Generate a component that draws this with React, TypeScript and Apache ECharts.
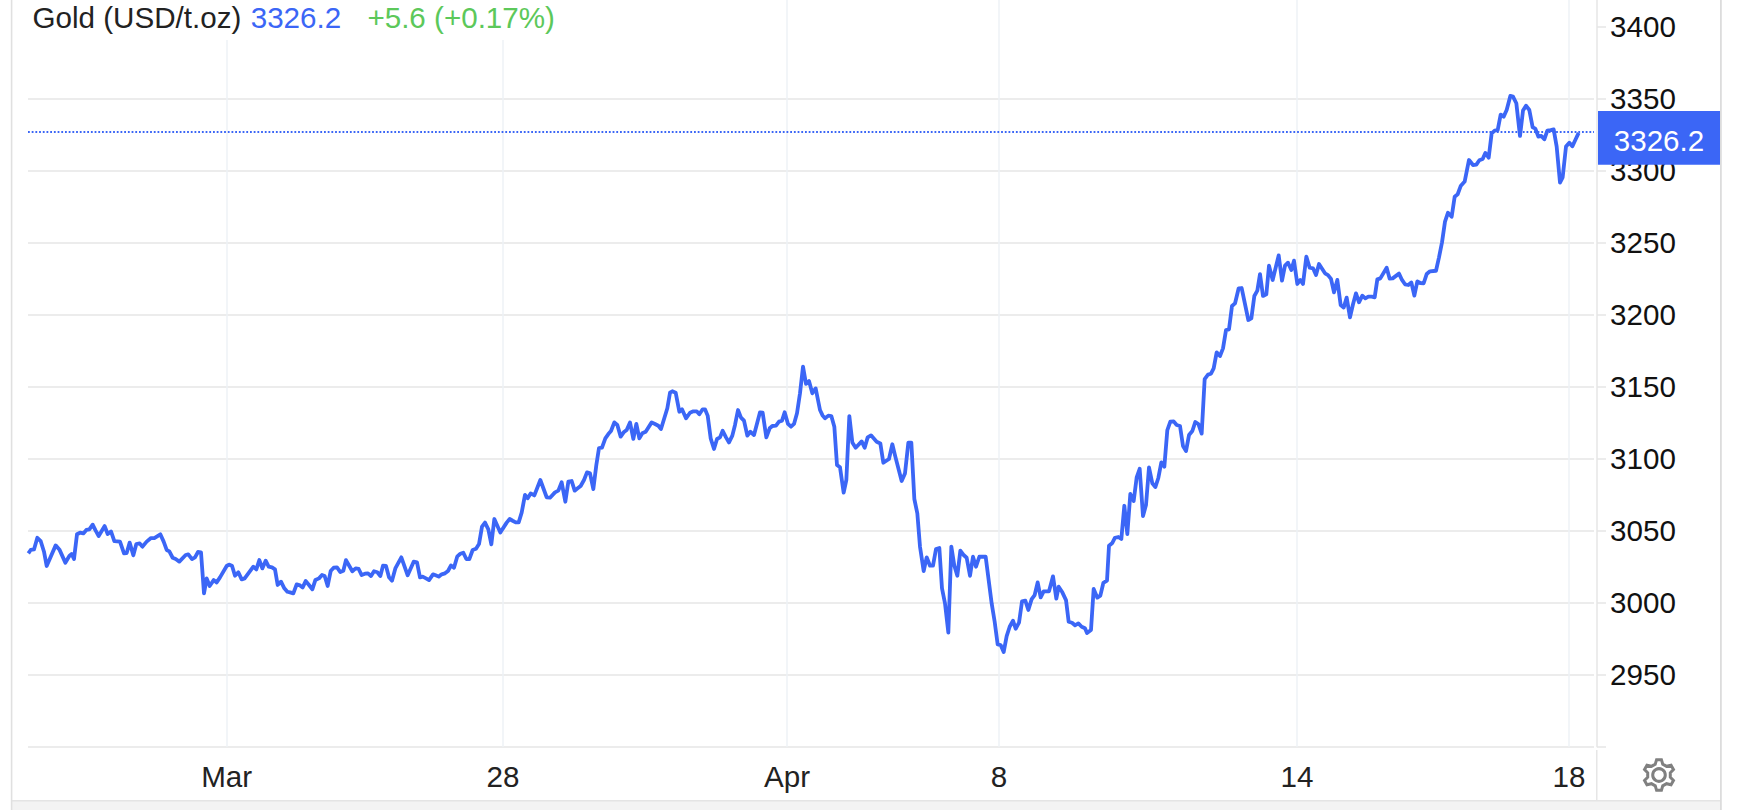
import React, { useEffect, useRef } from "react";
import * as echarts from "echarts";

// Each session holds [time step within the session, price in USD/t.oz]; sessions are consecutive.
const sessionLength = 795;
const session1 = [[10,3034.3],[17,3036.6],[27,3037],[37,3045.1],[47,3042.8],[57,3035.4],[65,3025.5],[92,3039.8],[103,3037],[121,3027.8],[133,3032.4],[140,3033.8],[147,3030.3],[156,3047.5],[165,3048.6],[175,3048.1],[184,3050.5],[193,3050.9],[203,3054.2],[212,3050],[221,3046.3],[239,3053.2],[248,3047.7],[258,3049.5],[268,3042.8],[285,3042.4],[297,3034.3],[305,3034.5],[314,3041.7],[325,3032.9],[334,3040.7],[344,3041.2],[352,3038.9],[365,3042.4],[378,3044.9],[388,3044.9],[406,3047.5],[416,3042.4],[425,3036.6],[433,3035.6],[443,3031.2],[452,3030.3],[463,3028.5],[482,3033.1],[490,3033.6],[501,3030.3],[510,3031.5],[519,3035.2],[528,3035],[537,3006.5],[545,3016.9],[554,3011.6],[566,3015.7],[575,3014.1],[585,3017.6],[605,3025.5],[612,3026.4],[621,3025.7],[630,3018.7],[640,3021.1],[650,3016.2],[659,3016.9],[685,3025],[694,3023.1],[703,3029.6],[712,3023.8],[722,3029.2],[731,3025],[741,3024.5],[750,3023.1],[758,3012.3],[768,3014.6],[778,3010],[787,3007.6],[795,3007.2]];
const session2 = [[10,3006.5],[20,3012.7],[30,3012],[38,3010.6],[47,3015],[57,3012.3],[67,3009.3],[76,3015.7],[87,3016.9],[96,3019.2],[104,3018.5],[113,3011.6],[122,3022],[131,3024.3],[141,3024.5],[151,3021.3],[160,3022.2],[168,3029.6],[178,3025.5],[187,3021.8],[197,3023.8],[206,3023.4],[215,3019.2],[225,3020.1],[234,3020.4],[243,3018.5],[252,3021.8],[262,3021.1],[271,3018.5],[279,3025.7],[288,3025.5],[297,3017.6],[306,3015.3],[316,3023.8],[334,3031.5],[343,3025.5],[353,3019],[371,3028.5],[381,3028],[390,3017.6],[398,3018.1],[408,3016.9],[417,3015.7],[429,3019.7],[437,3019],[446,3018.1],[455,3019.7],[465,3020.4],[474,3022],[483,3025.9],[492,3024.3],[502,3032.2],[511,3034],[520,3034.7],[529,3030.3],[538,3030.3],[548,3036.6],[558,3037.5],[567,3040.7],[576,3052.8],[585,3055.6],[595,3050.9],[604,3040.5],[613,3058.1],[631,3048.8],[650,3055.6],[659,3058.1],[668,3056.9],[677,3055.8],[686,3055.8],[695,3062.5],[705,3074.8],[713,3072.5],[722,3075.9],[733,3074.5],[751,3085.2],[770,3073.2],[780,3072.9],[795,3076.6]];
const session3 = [[10,3077.8],[20,3083.6],[31,3070.1],[40,3084],[50,3084.5],[59,3077.8],[68,3079.4],[77,3081],[87,3085.2],[96,3090.5],[105,3089.8],[115,3078.9],[124,3095.6],[132,3107.4],[141,3107.6],[151,3114.1],[160,3117.1],[168,3119.2],[178,3125.2],[187,3123.4],[197,3115.3],[206,3118.3],[215,3119.9],[225,3125.2],[235,3113.7],[244,3124.1],[253,3114.1],[262,3117.6],[272,3118.7],[290,3125.2],[300,3124.1],[310,3122.9],[318,3120.6],[337,3135],[345,3145.8],[352,3146.8],[362,3145.8],[373,3132.6],[381,3134.3],[393,3128],[405,3131.9],[415,3132.9],[425,3132.9],[433,3130.8],[443,3134.3],[450,3134.3],[458,3129.9],[467,3114.1],[477,3106.7],[486,3113.7],[495,3114.8],[503,3119.4],[513,3114.8],[522,3111.3],[532,3116],[540,3123.4],[549,3133.8],[558,3128.5],[567,3126.4],[577,3116],[586,3118.7],[597,3116.4],[615,3132.2],[623,3131.9],[634,3114.8],[644,3121.1],[652,3122.7],[663,3122.9],[672,3125.7],[681,3126.4],[689,3132.2],[699,3124.1],[708,3122.2],[717,3124.1],[726,3131.5],[735,3145.4],[744,3163.9],[753,3151.9],[762,3153.9],[772,3145.4],[782,3148.8],[795,3133.8]];
const session4 = [[8,3129.9],[15,3128],[25,3129.9],[34,3129.6],[43,3122.2],[51,3095.6],[60,3094],[71,3076.4],[79,3085.2],[88,3129.6],[97,3111.3],[107,3107.6],[125,3112],[134,3107.6],[143,3114.8],[153,3116.2],[170,3111.8],[181,3110.6],[190,3097.2],[207,3099.8],[217,3110],[226,3101.4],[245,3084.5],[255,3089.8],[265,3111.1],[274,3111.1],[283,3072],[292,3062],[300,3038.9],[311,3022],[320,3031.5],[330,3025.7],[339,3025.7],[348,3037.3],[358,3038],[366,3009.9],[375,2999.5],[385,2979.2],[394,3038.9],[403,3025.7],[412,3018.7],[421,3036.1],[430,3033.3],[440,3031.2],[450,3018.7],[459,3031.9],[468,3025],[478,3031.9],[497,3031.9],[515,2999.5],[524,2986.8],[533,2971],[542,2970.6],[551,2965.7],[560,2976.8],[569,2983.3],[579,2987.5],[587,2981.9],[597,2986.1],[606,3000.9],[616,3001.4],[625,2994.9],[635,3002.5],[644,3005.3],[653,3014.1],[662,3003.7],[671,3007.9],[687,3007.9],[699,3018.3],[709,3002.8],[716,3011.1],[727,3007.2],[738,3001.8],[746,2986.8],[756,2986.1],[765,2984.3],[775,2985.6],[785,2983.3],[795,2982.2]];
const session5 = [[6,2979],[18,2981.1],[26,3009.6],[37,3003.5],[46,3004.9],[55,3013.7],[66,3015.3],[72,3039.6],[82,3041.5],[90,3045.1],[100,3045.6],[109,3044.2],[118,3067.3],[127,3047.7],[136,3075.5],[146,3070.6],[155,3087],[164,3093],[174,3060.2],[183,3067.8],[192,3094],[202,3082.9],[211,3080.3],[220,3086.6],[229,3097.4],[238,3094.4],[247,3119.9],[256,3125.7],[266,3125.9],[275,3123.4],[285,3122.7],[294,3108.8],[303,3105.3],[312,3116.4],[322,3119.2],[331,3125.5],[340,3124.1],[350,3117.4],[359,3155.3],[369,3158.4],[378,3159],[386,3162.7],[395,3173.8],[405,3171.3],[414,3176.6],[423,3189.3],[432,3189.8],[441,3206],[450,3207.8],[461,3218.3],[470,3218.5],[490,3196.3],[499,3197.4],[508,3213],[517,3216.7],[525,3228.2],[534,3213],[544,3214.1],[552,3234],[563,3224.1],[581,3241.2],[591,3223.6],[600,3234],[609,3236.1],[619,3231],[627,3237.5],[637,3221.3],[646,3224.1],[654,3221.3],[664,3240.3],[674,3232.6],[684,3232.2],[693,3227.5],[702,3235.2],[720,3228.7],[729,3227.5],[738,3224.8],[747,3215.5],[757,3224.1],[767,3206.7],[776,3204.9],[785,3211.8],[795,3198.1]];
const session6 = [[9,3207.2],[18,3214.8],[27,3208.6],[37,3213.2],[46,3211.3],[55,3212.5],[65,3212.5],[74,3212],[82,3224.5],[91,3225.2],[110,3232.6],[119,3225],[128,3225.2],[147,3228.5],[156,3224.1],[165,3221.1],[175,3220.6],[184,3222.4],[193,3213.2],[202,3223.1],[211,3222],[221,3221.8],[230,3228.2],[240,3230.1],[258,3230.5],[267,3239.8],[276,3250.2],[285,3264.6],[294,3270.8],[305,3268],[314,3281.9],[323,3283.6],[332,3289.3],[344,3292.4],[357,3307.4],[369,3303.9],[379,3304.2],[388,3307.2],[398,3308.1],[406,3312.3],[416,3309],[425,3325.9],[434,3327.8],[443,3328.2],[452,3338.9],[461,3337.5],[470,3342.1],[481,3351.9],[489,3351.4],[499,3346.8],[510,3324.1],[519,3341.7],[528,3345.1],[538,3342.1],[548,3330.1],[556,3329.2],[565,3323.6],[574,3324.1],[583,3321.8],[592,3327.8],[602,3328.2],[611,3328.7],[620,3316.7],[630,3291.7],[638,3295.4],[648,3316.7],[658,3319.4],[667,3316.9],[677,3321.8],[686,3326.2]];
const sessions = [session1, session2, session3, session4, session5, session6];

const dateTicks = [605, 1434, 2286, 2922, 3816, 4632];
const dateLabels = ["Mar", "28", "Apr", "8", "14", "18"];
const priceLabels = [2950, 3000, 3050, 3100, 3150, 3200, 3250, 3300, 3350, 3400];
const priceTicks = [2900, ...priceLabels];
const lastPrice = 3326.2;
const titleName = "Gold (USD/t.oz)";
const titleChange = "+5.6 (+0.17%)";

const FONT = '29.6px "Liberation Sans", Arial, sans-serif';
const BLUE = "#3b66f6";

// six-toothed gear outline, drawn in a 32x32 box
const gearPoints: string[] = [];
for (let i = 0; i < 6; i++) {
  const a = i * 60 - 90;
  for (const [off, r] of [[-19, 11.5], [-9, 15.5], [9, 15.5], [19, 11.5]]) {
    const rad = ((a + off) * Math.PI) / 180;
    gearPoints.push(`${(16 + r * Math.cos(rad)).toFixed(2)} ${(16 + r * Math.sin(rad)).toFixed(2)}`);
  }
}
echarts.graphic.registerShape("gear", echarts.graphic.extendPath("M" + gearPoints.join("L") + "Z", {}));

export default function App() {
  const ref = useRef<HTMLDivElement>(null);
  useEffect(() => {
    const chart = echarts.init(ref.current!, undefined, { renderer: "svg" });
    const lineData = sessions.flatMap((s, i) => s.map(([t, p]) => [t + i * sessionLength, p]));
    const titleText = (text: string, x: number, fill: string) => ({
      type: "text",
      z: 101,
      style: { text, x, y: 17.5, fill, font: FONT, textVerticalAlign: "middle" },
    });
    const box = (x: number, y: number, width: number, height: number, fill: string, z = 100) => ({
      type: "rect",
      z,
      shape: { x, y, width, height },
      style: { fill },
    });
    chart.setOption({
      animation: false,
      backgroundColor: "#ffffff",
      grid: { left: 28, right: 144, top: 0, bottom: 63.3, containLabel: false },
      xAxis: {
        type: "value",
        min: 9,
        max: 4707,
        axisLine: { show: false },
        axisTick: { show: false },
        splitLine: { show: false },
        axisLabel: {
          margin: 15,
          color: "#222222",
          fontFamily: "Liberation Sans",
          fontSize: 29.6,
          customValues: dateTicks,
          formatter: (v: number) => dateLabels[dateTicks.indexOf(v)] ?? "",
        },
      },
      yAxis: {
        type: "value",
        position: "right",
        offset: 3,
        min: 2900,
        max: 3418.5,
        interval: 50,
        axisLine: { show: true, lineStyle: { color: "#e6e6e6", width: 1.5 } },
        axisTick: { show: true, length: 9, customValues: priceTicks, lineStyle: { color: "#e6e6e6", width: 1.5 } },
        splitLine: { show: true, showMaxLine: false, lineStyle: { color: "#e6e6e6", width: 1.5 } },
        axisLabel: {
          margin: 13,
          color: "#111111",
          fontFamily: "Liberation Sans",
          fontSize: 29.6,
          customValues: priceLabels,
          formatter: (v: number) => String(v),
        },
      },
      series: [
        {
          type: "line",
          data: [],
          silent: true,
          z: 1,
          markLine: {
            silent: true,
            z: 1,
            symbol: "none",
            label: { show: false },
            lineStyle: { color: "#eef2f6", width: 1.5, type: "solid" },
            data: dateTicks.map((v) => ({ xAxis: v })),
          },
        },
        {
          type: "line",
          data: lineData,
          showSymbol: false,
          symbol: "none",
          silent: true,
          z: 3,
          lineStyle: { color: BLUE, width: 3.8, join: "round" },
          markLine: {
            silent: true,
            z: 3,
            symbol: "none",
            label: { show: false },
            lineStyle: { color: BLUE, width: 1.8, type: [1.8, 1.9] },
            data: [{ yAxis: lastPrice + 0.5 }],
          },
        },
      ],
      graphic: {
        elements: [
          box(28, 0, 541, 40, "#ffffff"),
          titleText(titleName, 32.5, "#222222"),
          titleText(String(lastPrice), 250.7, BLUE),
          titleText(titleChange, 367.4, "#5cc85a"),
          box(1598, 111, 122, 53.7, BLUE),
          {
            type: "text",
            z: 101,
            style: {
              text: String(lastPrice),
              x: 1659,
              y: 140,
              fill: "#ffffff",
              font: FONT,
              textAlign: "center",
              textVerticalAlign: "middle",
            },
          },
          box(11, 801, 1710, 9, "#f3f3f3"),
          box(11, 800, 1710, 1.5, "#e4e4e4"),
          box(10.8, 0, 1.6, 810, "#e0e0e0"),
          box(1720, 0, 1.8, 810, "#dcdcdc"),
          box(1596, 750, 1.5, 50, "#e6e6e6"),
          {
            type: "gear",
            z: 101,
            x: 1643,
            y: 759,
            style: { fill: "none", stroke: "#808080", lineWidth: 3 },
          },
          {
            type: "circle",
            z: 101,
            shape: { cx: 1659, cy: 775, r: 6.3 },
            style: { fill: "none", stroke: "#808080", lineWidth: 3 },
          },
        ],
      },
    });
    return () => chart.dispose();
  }, []);
  return <div ref={ref} style={{ position: "absolute", left: 0, top: 0, width: 1738, height: 810 }} />;
}
